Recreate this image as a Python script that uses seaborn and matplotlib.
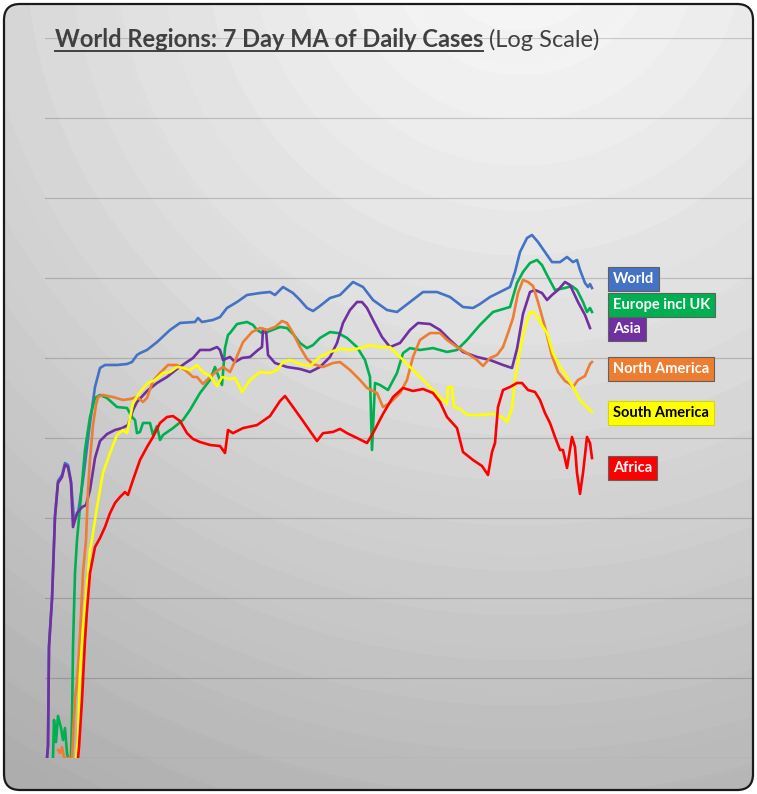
import numpy as np
import pandas as pd
import seaborn as sns
import matplotlib.pyplot as plt
from matplotlib.patches import FancyBboxPatch
from matplotlib.lines import Line2D

# ---- data: 7 day MA of daily cases ----
regions = ["World", "Europe incl UK", "Asia", "North America", "South America", "Africa"]
colors = ["#4472C4", "#00B050", "#7030A0", "#ED7D31", "#FFFF00", "#FF0000"]
text_colors = ["white", "white", "white", "white", "black", "white"]

world_day = [0, 1, 2, 5, 8, 11, 15, 18, 21, 24, 27, 31, 36, 43, 48, 53, 58, 70, 80, 85,
             90, 93, 100, 110, 123, 133, 148, 151, 155, 166, 173, 180, 190, 200, 213, 223, 228, 236, 246, 253,
             260, 266, 273, 283, 293, 306, 316, 326, 340, 350, 363, 376, 390, 403, 416, 426, 433, 443, 453, 463,
             468, 473, 480, 485, 491, 498, 505, 513, 520, 526, 530, 533, 538, 541, 543, 545]
world_cases = [1, 1.45, 26, 100, 1090, 2900, 3450, 4870, 4600, 2900, 944, 1150, 2990, 15400, 43400, 75000, 81800, 81800, 84100, 89100,
               109000, 115000, 126000, 158000, 224000, 274000, 282000, 316000, 282000, 299000, 325000, 422000, 501000, 613000, 649000, 668000, 613000, 772000, 649000, 531000,
               422000, 387000, 447000, 562000, 613000, 891000, 772000, 531000, 398000, 376000, 501000, 668000, 668000, 579000, 434000, 422000, 473000, 579000, 668000, 772000,
               1190000, 2110000, 3160000, 3450000, 2820000, 2110000, 1580000, 1580000, 1830000, 1580000, 1680000, 1260000, 866000, 772000, 841000, 750000]

europe_day = [6, 7, 9, 11, 14, 16, 18, 20, 21, 24, 25, 26, 28, 30, 33, 38, 43, 48, 53, 60,
              70, 80, 85, 88, 90, 93, 96, 103, 106, 110, 113, 116, 126, 136, 143, 153, 163, 168, 171, 175,
              178, 181, 183, 190, 200, 206, 210, 215, 220, 233, 240, 246, 253, 260, 266, 273, 283, 291, 300, 310,
              318, 323, 325, 328, 333, 341, 350, 356, 363, 373, 386, 400, 410, 420, 433, 446, 463, 470, 476, 483,
              490, 495, 500, 508, 518, 525, 530, 536, 540, 543, 545]
europe_cases = [1, 2.99, 1.58, 3.35, 2.37, 1.68, 2.37, 1.15, 1, 1, 2.99, 24.4, 205, 531, 1370, 7080, 18300, 31600, 34500, 31600,
                24400, 23700, 18300, 16800, 11500, 11900, 15400, 15400, 10900, 14100, 9440, 10900, 13300, 16800, 22400, 36500, 53100, 77200, 61300, 46000,
                133000, 194000, 205000, 266000, 282000, 259000, 224000, 205000, 211000, 244000, 237000, 200000, 154000, 133000, 145000, 178000, 211000, 205000, 178000, 137000,
                94400, 57900, 7080, 48700, 46000, 39800, 64900, 115000, 133000, 126000, 133000, 119000, 126000, 168000, 259000, 376000, 434000, 866000, 1190000, 1540000,
                1680000, 1450000, 1090000, 708000, 750000, 794000, 708000, 501000, 376000, 422000, 376000]

asia_day = [0, 1, 2, 5, 8, 11, 15, 18, 21, 24, 26, 30, 35, 39, 43, 48, 53, 60, 68, 75, 81,
            86, 90, 100, 110, 120, 130, 140, 146, 153, 163, 170, 173, 176, 183, 188, 195, 203, 211, 215, 216,
            219, 221, 228, 240, 253, 263, 273, 283, 290, 296, 303, 310, 315, 320, 326, 335, 343, 353, 363, 371,
            383, 393, 403, 416, 430, 443, 456, 465, 470, 476, 483, 488, 495, 500, 505, 511, 518, 523, 531, 538, 543]
asia_cases = [1, 1.4, 24, 94, 1030, 2740, 3250, 4600, 4340, 2740, 770, 1150, 1370, 1450, 2240, 5620, 9170, 11200, 12600, 13300, 14500,
              22400, 28200, 38700, 48700, 57900, 72900, 89100, 100000, 126000, 126000, 137000, 126000, 94400, 103000, 89100, 100000, 103000, 126000, 137000, 231000,
              224000, 109000, 86600, 77200, 72900, 66800, 77200, 103000, 154000, 274000, 398000, 501000, 501000, 422000, 299000, 183000, 137000, 154000, 224000, 274000,
              266000, 224000, 168000, 119000, 103000, 94400, 81800, 75000, 130000, 355000, 668000, 708000, 649000, 531000, 613000, 708000, 891000, 818000, 501000, 345000, 237000]

north_am_day = [11, 13, 15, 17, 25, 28, 30, 33, 36, 39, 41, 43, 46, 49, 51, 56, 66, 76, 83, 90,
                96, 100, 106, 113, 121, 130, 138, 146, 150, 156, 163, 170, 176, 183, 188, 196, 205, 213, 220, 228,
                235, 240, 246, 253, 260, 266, 276, 286, 293, 303, 313, 320, 330, 336, 343, 353, 360, 366, 373, 383,
                393, 400, 410, 420, 430, 436, 443, 450, 456, 461, 466, 471, 476, 481, 486, 491, 498, 505, 511, 518,
                523, 526, 531, 538, 543, 545]
north_am_cases = [1.26, 1.15, 1.37, 1, 1, 5.62, 8.66, 34.5, 205, 531, 2240, 5310, 14500, 25900, 32500, 34500, 32500, 29900, 30700, 32500,
                  28200, 31600, 51600, 64900, 81800, 81800, 70800, 57900, 57900, 47300, 57900, 68800, 77200, 66800, 91700, 158000, 211000, 237000, 224000, 244000,
                  290000, 274000, 205000, 137000, 97200, 84100, 77200, 86600, 89100, 70800, 53100, 42200, 36500, 24400, 27400, 36500, 53100, 103000, 168000, 205000,
                  205000, 168000, 137000, 115000, 94400, 79400, 100000, 109000, 137000, 205000, 316000, 649000, 944000, 891000, 794000, 501000, 244000, 106000, 66800, 51600,
                  47300, 43400, 53100, 59600, 84100, 89100]

south_am_day = [29, 31, 33, 36, 38, 41, 43, 45, 50, 56, 63, 70, 76, 80, 86, 93, 101, 108, 116, 123,
                130, 136, 143, 150, 156, 163, 170, 175, 182, 188, 195, 203, 213, 223, 230, 236, 243, 253, 263, 273,
                283, 293, 303, 313, 323, 333, 343, 353, 363, 373, 383, 393, 400, 401, 405, 407, 413, 420, 433, 446,
                455, 460, 465, 468, 473, 478, 483, 488, 493, 500, 506, 513, 520, 526, 533, 540, 545]
south_am_cases = [1, 1.68, 11.5, 39.8, 77, 194, 398, 531, 1370, 3650, 6490, 10900, 12600, 11500, 27400, 37600, 48700, 53100, 64900, 66800,
                  77200, 75000, 70800, 81800, 66800, 59600, 44700, 57900, 54600, 56200, 37600, 53100, 66800, 64900, 70800, 89100, 94400, 84100, 79400, 103000,
                  119000, 130000, 126000, 133000, 145000, 137000, 137000, 103000, 77200, 57900, 43400, 32500, 26600, 43400, 43400, 24400, 23100, 19400, 19400, 20000,
                  18300, 15800, 23700, 53100, 126000, 244000, 376000, 365000, 282000, 205000, 115000, 77200, 57900, 43400, 29900, 24400, 21100]

africa_day = [31, 32, 35, 38, 40, 43, 48, 53, 58, 63, 68, 73, 78, 81, 86, 93, 100, 106, 113, 120,
              126, 133, 140, 146, 153, 163, 173, 178, 181, 186, 196, 210, 223, 233, 238, 246, 256, 263, 270, 276,
              286, 293, 300, 310, 320, 326, 336, 346, 356, 366, 376, 386, 393, 400, 410, 416, 426, 435, 441, 445,
              448, 451, 456, 463, 470, 475, 481, 488, 493, 498, 503, 508, 513, 516, 520, 525, 528, 530, 533, 536,
              540, 543, 545]
africa_cases = [1, 1.37, 5.31, 29.9, 70.8, 205, 434, 562, 772, 1150, 1540, 1830, 2110, 1940, 2990, 5310, 7720, 10300, 15400, 18300,
                18800, 16300, 11500, 9720, 8910, 8180, 7940, 6490, 12600, 11500, 13300, 14500, 18800, 29000, 33500, 24400, 16300, 12200, 9170, 11500,
                11900, 13000, 11500, 10000, 8660, 11500, 20000, 32500, 42200, 38700, 41000, 36500, 28200, 18300, 13300, 6680, 5310, 4470, 3450, 6680,
                8660, 24400, 39800, 43400, 48700, 48700, 39800, 37600, 29900, 20500, 15400, 10300, 7080, 7080, 4220, 10300, 7720, 3650, 2000, 3650,
                10300, 8660, 5620]

series = [(world_day, world_cases), (europe_day, europe_cases), (asia_day, asia_cases),
          (north_am_day, north_am_cases), (south_am_day, south_am_cases), (africa_day, africa_cases)]

frames = []
for name, (d, c) in zip(regions, series):
    frames.append(pd.DataFrame({"region": name, "day": d, "cases": c}))
df = pd.concat(frames, ignore_index=True)

# ---- figure ----
W, H = 757, 794
fig = plt.figure(figsize=(W / 100, H / 100), dpi=100)
fig.patch.set_facecolor("white")

# background: radial grey gradient inside a rounded frame
bg = fig.add_axes([0, 0, 1, 1])
bg.set_xlim(0, W)
bg.set_ylim(H, 0)
bg.axis("off")
yy, xx = np.mgrid[0:H, 0:W]
r = np.hypot(xx - 520, yy + 60)
shade = 0.96 - 0.30 * (r / 1000) ** 1.3 + 0.012 * ((r / 45) % 1)
img = bg.imshow(shade, cmap="gray", vmin=0, vmax=1, extent=(0, W, H, 0), interpolation="bilinear")
frame = FancyBboxPatch((4, 4), W - 8, H - 8, boxstyle="round,pad=0,rounding_size=16",
                       fc="none", ec="#1a1a1a", lw=1.6)
bg.add_patch(frame)
img.set_clip_path(frame)

# main chart
ax = fig.add_axes([45 / W, (H - 758) / H, (754 - 45) / W, (758 - 38) / H])
ax.patch.set_alpha(0)
sns.lineplot(data=df, x="day", y="cases", hue="region", hue_order=regions,
             palette=dict(zip(regions, colors)), estimator=None, sort=False,
             linewidth=1.9, legend=False, ax=ax)
ax.set_yscale("log")
ax.set_ylim(1, 1e9)
ax.set_xlim(-2, 707)
ax.set_yticks([10.0 ** k for k in range(10)])
ax.yaxis.set_minor_locator(plt.NullLocator())
ax.grid(axis="y", color="black", alpha=0.17, lw=0.9)
ax.grid(axis="x", visible=False)
ax.tick_params(left=False, bottom=False, labelleft=False, labelbottom=False)
ax.set_xlabel("")
ax.set_ylabel("")
for s in ax.spines.values():
    s.set_visible(False)

# title
fam = ["Lato", "DejaVu Sans"]
t_bold = fig.text(55 / W, 1 - 47 / H, "World Regions: 7 Day MA of Daily Cases", fontsize=17,
                  fontweight="bold", color="#404040", family=fam, va="baseline")
fig.canvas.draw()
rend = fig.canvas.get_renderer()
bb = t_bold.get_window_extent(rend)
fig.text((bb.x1 + 6) / W, 1 - 47 / H, "(Log Scale)", fontsize=17, color="#404040",
         family=fam, va="baseline")
uy = 1 - 51 / H
fig.add_artist(Line2D([bb.x0 / W, bb.x1 / W], [uy, uy], color="#404040", lw=1.4,
                      transform=fig.transFigure))

# region labels
label_y = [279, 305, 329, 369, 413, 468]
for name, col, tc, y in zip(regions, colors, text_colors, label_y):
    edge = "#606060" if name != "South America" else "#d8d800"
    fig.text(613 / W, 1 - y / H, name, fontsize=10.5, fontweight="bold", color=tc,
             family=fam, va="center", ha="left",
             bbox=dict(boxstyle="square,pad=0.33", fc=col, ec=edge, lw=0.8))

plt.savefig("out.png", dpi=100)
